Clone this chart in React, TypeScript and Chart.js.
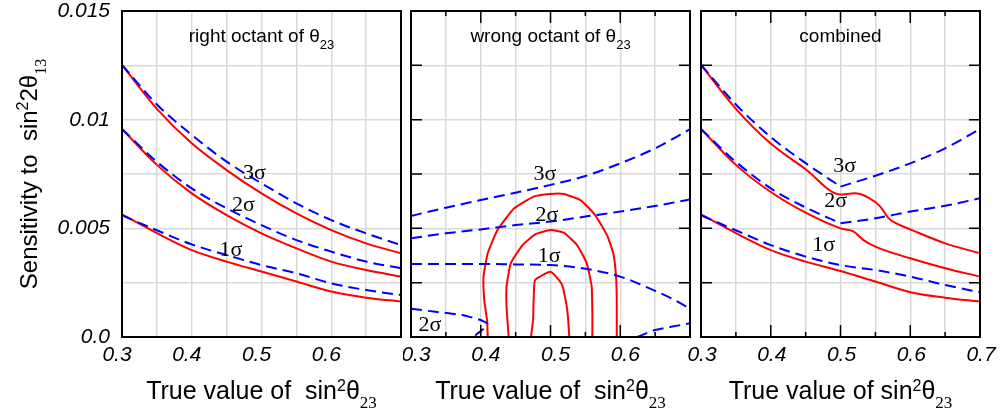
import React, { useEffect, useRef } from "react";
import { Chart, registerables } from "chart.js";

Chart.register(...registerables);

// ---------- shared axis values ----------
const X_GRID = [0.3, 0.35, 0.4, 0.45, 0.5, 0.55, 0.6, 0.65, 0.7];
const X_LABEL_VALUES = [0.3, 0.4, 0.5, 0.6, 0.7];
const X_LABELS = ["0.3", "0.4", "0.5", "0.6", "0.7"];
const Y_LABEL_VALUES = [0, 0.005, 0.01, 0.015];
const Y_LABELS = ["0.0", "0.005", "0.01", "0.015"];

// ---------- panel 1: right octant ----------
const RIGHT_RED_3 = [0.01252, 0.0105, 0.00891, 0.00768, 0.00661, 0.00569, 0.00492, 0.00431, 0.00385];
const RIGHT_BLUE_3 = [0.01252, 0.0107, 0.0093, 0.00807, 0.00707, 0.00615, 0.00538, 0.00477, 0.00423];
const RIGHT_RED_2 = [0.00957, 0.00792, 0.00661, 0.00561, 0.00477, 0.00408, 0.00347, 0.00308, 0.00278];
const RIGHT_BLUE_2 = [0.00957, 0.00806, 0.00684, 0.00592, 0.00515, 0.00446, 0.00393, 0.00347, 0.00316];
const RIGHT_RED_1 = [0.00564, 0.00478, 0.004, 0.00347, 0.00301, 0.00255, 0.00209, 0.00181, 0.00163];
const RIGHT_BLUE_1 = [0.0056, 0.00491, 0.00426, 0.00377, 0.00331, 0.00293, 0.00247, 0.00216, 0.00193];
const RIGHT_SIGMA_TEXT = ["3σ", "2σ", "1σ"];
const RIGHT_SIGMA_X = [0.49, 0.474, 0.456];
const RIGHT_SIGMA_Y = [0.00755, 0.00605, 0.004];

// ---------- panel 2: wrong octant ----------
const WRONG_BLUE_3 = [0.00557, 0.00595, 0.0063, 0.00664, 0.007, 0.00741, 0.00799, 0.00868, 0.00956];
const WRONG_BLUE_2 = [0.00454, 0.00477, 0.00495, 0.00515, 0.00531, 0.00554, 0.00577, 0.00603, 0.00633];
const WRONG_BLUE_1_X = [0.3, 0.35, 0.4, 0.45, 0.5, 0.55, 0.6, 0.65, 0.675, 0.7];
const WRONG_BLUE_1_Y = [0.00336, 0.00336, 0.00336, 0.00334, 0.00331, 0.00314, 0.00278, 0.00212, 0.00175, 0.0013];
const WRONG_BLUE_2L_X = [0.3, 0.335, 0.373, 0.4, 0.41, 0.403, 0.395, 0.39];
const WRONG_BLUE_2L_Y = [0.0013, 0.00116, 0.00101, 0.00078, 0.0006, 0.00035, 0.00015, 0];
const WRONG_BLUE_2R_X = [0.624, 0.65, 0.675, 0.7];
const WRONG_BLUE_2R_Y = [0, 0.00032, 0.00048, 0.00063];
const WRONG_RED_3_X = [0.41, 0.409, 0.405, 0.404, 0.41, 0.424, 0.448, 0.476, 0.5, 0.519, 0.543, 0.564, 0.581, 0.59, 0.594, 0.595, 0.595];
const WRONG_RED_3_Y = [0, 0.00078, 0.0017, 0.00278, 0.00385, 0.00492, 0.00592, 0.00646, 0.00658, 0.00658, 0.0063, 0.00561, 0.00469, 0.00385, 0.00278, 0.0017, 0];
const WRONG_RED_2_X = [0.44, 0.437, 0.437, 0.443, 0.46, 0.479, 0.5, 0.519, 0.538, 0.552, 0.559, 0.56, 0.56];
const WRONG_RED_2_Y = [0, 0.0014, 0.00232, 0.00339, 0.00423, 0.00474, 0.00492, 0.0048, 0.00423, 0.00339, 0.00232, 0.00109, 0];
const WRONG_RED_1_X = [0.472, 0.475, 0.476, 0.478, 0.5, 0.516, 0.522, 0.525, 0.527];
const WRONG_RED_1_Y = [0, 0.00078, 0.00186, 0.00262, 0.003, 0.00245, 0.00165, 0.00094, 0];
const WRONG_SIGMA_TEXT = ["3σ", "2σ", "1σ", "2σ"];
const WRONG_SIGMA_X = [0.492, 0.495, 0.498, 0.327];
const WRONG_SIGMA_Y = [0.0075, 0.00559, 0.0037, 0.00055];

// ---------- panel 3: combined ----------
const COMB_RED_3_X = [0.3, 0.35, 0.4, 0.45, 0.5, 0.52, 0.54, 0.557, 0.569, 0.583, 0.6, 0.65, 0.7];
const COMB_RED_3_Y = [0.01252, 0.0105, 0.0089, 0.00772, 0.00656, 0.00661, 0.00641, 0.006, 0.00546, 0.00518, 0.00495, 0.00431, 0.00385];
const COMB_BLUE_3 = [0.01252, 0.0107, 0.0092, 0.008, 0.00692, 0.00742, 0.00799, 0.00868, 0.00957];
const COMB_RED_2_X = [0.3, 0.35, 0.4, 0.45, 0.5, 0.519, 0.533, 0.55, 0.6, 0.65, 0.7];
const COMB_RED_2_Y = [0.00957, 0.00792, 0.00667, 0.00572, 0.005, 0.00485, 0.00446, 0.00416, 0.00362, 0.00316, 0.00278];
const COMB_BLUE_2 = [0.00957, 0.00806, 0.00684, 0.00596, 0.00523, 0.00546, 0.00577, 0.00604, 0.00638];
const COMB_RED_1 = [0.00564, 0.00478, 0.004, 0.00347, 0.00304, 0.00255, 0.00206, 0.00181, 0.00163];
const COMB_BLUE_1 = [0.0056, 0.00491, 0.00423, 0.0037, 0.00331, 0.00308, 0.00278, 0.00239, 0.00206];
const COMB_SIGMA_TEXT = ["3σ", "2σ", "1σ"];
const COMB_SIGMA_X = [0.506, 0.493, 0.476];
const COMB_SIGMA_Y = [0.00787, 0.00623, 0.00421];

// ---------- styling ----------
const RED = "#ff0000";
const BLUE = "#0000ff";
const GRID = "#d9d9d9";
const SANS = '"Liberation Sans", Arial, sans-serif';
const SERIF = '"Liberation Serif", "Times New Roman", serif';

type Seg = { text: string; size: number; dy: number; family: string };

function drawRich(ctx: CanvasRenderingContext2D, segs: Seg[], x: number, y: number) {
  let total = 0;
  const ws = segs.map((s) => {
    ctx.font = `${s.size}px ${s.family}`;
    const w = ctx.measureText(s.text).width;
    total += w;
    return w;
  });
  let cx = x - total / 2;
  ctx.textAlign = "left";
  ctx.textBaseline = "alphabetic";
  segs.forEach((s, i) => {
    ctx.font = `${s.size}px ${s.family}`;
    ctx.fillText(s.text, cx, y + s.dy);
    cx += ws[i];
  });
}

function line(xs: number[], ys: number[], color: string, dashed: boolean, mode: "monotone" | "straight" = "monotone") {
  return {
    data: xs.map((x, i) => ({ x, y: ys[i] })),
    showLine: true,
    borderColor: color,
    backgroundColor: color,
    borderWidth: 2,
    borderDash: dashed ? [11, 6] : [],
    pointRadius: 0,
    fill: false,
    tension: mode === "monotone" ? 0.4 : 0.15,
    cubicInterpolationMode: mode === "monotone" ? "monotone" : "default",
  };
}

const xTitle = (space: string): Seg[] => [
  { text: `True value of${space}sin`, size: 25, dy: 0, family: SANS },
  { text: "2", size: 16, dy: -8, family: SANS },
  { text: "θ", size: 25, dy: 0, family: SANS },
  { text: "23", size: 17, dy: 9, family: SERIF },
];

const panelTitle = (t: string, sub: string): Seg[] => {
  const segs: Seg[] = [{ text: t, size: 19, dy: 0, family: SANS }];
  if (sub) segs.push({ text: sub, size: 13, dy: 7, family: SANS });
  return segs;
};

const Y_TITLE: Seg[] = [
  { text: "Sensitivity to  sin", size: 24, dy: 0, family: SANS },
  { text: "2", size: 16, dy: -9, family: SANS },
  { text: "2θ", size: 24, dy: 0, family: SANS },
  { text: "13", size: 16, dy: 9, family: SERIF },
];

interface PanelSpec {
  left: number;
  width: number;
  plotLeft: number;
  plotRight: number;
  datasets: any[];
  sigmaText: string[];
  sigmaX: number[];
  sigmaY: number[];
  title: Seg[];
  xTitle: Seg[];
  showY: boolean;
  hideLast: boolean;
  labelOffset: number;
  innerTicks: boolean;
}

const PLOT_TOP = 11;
const PLOT_BOTTOM = 337;
const HEIGHT = 416;

const PANELS: PanelSpec[] = [
  {
    left: 0,
    width: 403,
    plotLeft: 122,
    plotRight: 401,
    datasets: [
      line(X_GRID, RIGHT_BLUE_3, BLUE, true),
      line(X_GRID, RIGHT_BLUE_2, BLUE, true),
      line(X_GRID, RIGHT_BLUE_1, BLUE, true),
      line(X_GRID, RIGHT_RED_3, RED, false),
      line(X_GRID, RIGHT_RED_2, RED, false),
      line(X_GRID, RIGHT_RED_1, RED, false),
    ],
    sigmaText: RIGHT_SIGMA_TEXT,
    sigmaX: RIGHT_SIGMA_X,
    sigmaY: RIGHT_SIGMA_Y,
    title: panelTitle("right octant of θ", "23"),
    xTitle: xTitle("  "),
    showY: true,
    hideLast: true,
    labelOffset: -5,
    innerTicks: false,
  },
  {
    left: 403,
    width: 290,
    plotLeft: 411,
    plotRight: 690,
    datasets: [
      line(X_GRID, WRONG_BLUE_3, BLUE, true),
      line(X_GRID, WRONG_BLUE_2, BLUE, true),
      line(WRONG_BLUE_1_X, WRONG_BLUE_1_Y, BLUE, true),
      line(WRONG_BLUE_2L_X, WRONG_BLUE_2L_Y, BLUE, true, "straight"),
      line(WRONG_BLUE_2R_X, WRONG_BLUE_2R_Y, BLUE, true),
      line(WRONG_RED_3_X, WRONG_RED_3_Y, RED, false, "straight"),
      line(WRONG_RED_2_X, WRONG_RED_2_Y, RED, false, "straight"),
      line(WRONG_RED_1_X, WRONG_RED_1_Y, RED, false, "straight"),
    ],
    sigmaText: WRONG_SIGMA_TEXT,
    sigmaX: WRONG_SIGMA_X,
    sigmaY: WRONG_SIGMA_Y,
    title: panelTitle("wrong octant of θ", "23"),
    xTitle: xTitle("  "),
    showY: false,
    hideLast: true,
    labelOffset: 5,
    innerTicks: true,
  },
  {
    left: 684,
    width: 320,
    plotLeft: 701,
    plotRight: 980,
    datasets: [
      line(X_GRID.slice(0, 5), COMB_BLUE_3.slice(0, 5), BLUE, true),
      line(X_GRID.slice(4), COMB_BLUE_3.slice(4), BLUE, true),
      line(X_GRID.slice(0, 5), COMB_BLUE_2.slice(0, 5), BLUE, true),
      line(X_GRID.slice(4), COMB_BLUE_2.slice(4), BLUE, true),
      line(X_GRID, COMB_BLUE_1, BLUE, true),
      line(COMB_RED_3_X, COMB_RED_3_Y, RED, false),
      line(COMB_RED_2_X, COMB_RED_2_Y, RED, false),
      line(X_GRID, COMB_RED_1, RED, false),
    ],
    sigmaText: COMB_SIGMA_TEXT,
    sigmaX: COMB_SIGMA_X,
    sigmaY: COMB_SIGMA_Y,
    title: panelTitle("combined", ""),
    xTitle: xTitle(" "),
    showY: false,
    hideLast: false,
    labelOffset: 1,
    innerTicks: true,
  },
];

function findLabel(values: number[], labels: string[], v: number): string {
  const i = values.findIndex((a) => Math.abs(a - v) < 1e-7);
  return i >= 0 ? labels[i] : "";
}

function makeConfig(p: PanelSpec): any {
  const decor = {
    id: "decor",
    afterDatasetsDraw(chart: any) {
      const ctx: CanvasRenderingContext2D = chart.ctx;
      const a = chart.chartArea;
      const xs = chart.scales.x;
      const ys = chart.scales.y;
      ctx.save();
      // inner ticks
      if (p.innerTicks) {
        ctx.strokeStyle = "#000";
        ctx.lineWidth = 1.5;
        ctx.beginPath();
        X_GRID.slice(1, -1).forEach((v) => {
          const px = xs.getPixelForValue(v);
          const major = X_LABEL_VALUES.some((m) => Math.abs(m - v) < 1e-7);
          const len = major ? 12 : 5;
          ctx.moveTo(px, a.top);
          ctx.lineTo(px, a.top + len);
          ctx.moveTo(px, a.bottom);
          ctx.lineTo(px, a.bottom - len);
        });
        ys.ticks.forEach((t: any) => {
          if (t.value <= 1e-9 || t.value >= 0.015 - 1e-9) return;
          const py = ys.getPixelForValue(t.value);
          ctx.moveTo(a.left, py);
          ctx.lineTo(a.left + 11, py);
          ctx.moveTo(a.right, py);
          ctx.lineTo(a.right - 11, py);
        });
        ctx.stroke();
      }
      // frame
      ctx.strokeStyle = "#000";
      ctx.lineWidth = 2;
      ctx.strokeRect(a.left, a.top, a.right - a.left, a.bottom - a.top);
      // sigma labels
      ctx.fillStyle = "#000";
      ctx.font = `22px ${SERIF}`;
      ctx.textAlign = "center";
      ctx.textBaseline = "middle";
      p.sigmaText.forEach((t, i) => {
        ctx.fillText(t, xs.getPixelForValue(p.sigmaX[i]), ys.getPixelForValue(p.sigmaY[i]));
      });
      // titles
      const cx = (a.left + a.right) / 2;
      ctx.fillStyle = "#000";
      drawRich(ctx, p.title, cx, a.top + 31);
      drawRich(ctx, p.xTitle, cx, a.bottom + 62);
      if (p.showY) {
        ctx.translate(37, (a.top + a.bottom) / 2);
        ctx.rotate(-Math.PI / 2);
        drawRich(ctx, Y_TITLE, 0, 0);
      }
      ctx.restore();
    },
  };

  const tickFont = { family: SANS, size: 21, style: "italic" as const };

  return {
    type: "scatter",
    data: { datasets: p.datasets },
    options: {
      animation: false,
      responsive: false,
      devicePixelRatio: 1,
      events: [],
      layout: {
        padding: { left: 0, top: PLOT_TOP, right: p.left + p.width - p.plotRight, bottom: 0 },
      },
      plugins: {
        legend: { display: false },
        tooltip: { enabled: false },
        title: { display: false },
      },
      scales: {
        x: {
          type: "linear",
          min: 0.3,
          max: 0.7,
          border: { display: false },
          grid: { color: GRID, lineWidth: 1.5, drawTicks: false },
          ticks: {
            stepSize: 0.05,
            autoSkip: false,
            maxRotation: 0,
            minRotation: 0,
            padding: 6,
            labelOffset: p.labelOffset,
            color: "#000",
            font: tickFont,
            callback: (v: number) => {
              if (p.hideLast && Math.abs(v - 0.7) < 1e-7) return "";
              return findLabel(X_LABEL_VALUES, X_LABELS, v);
            },
          },
          afterFit: (s: any) => {
            s.height = HEIGHT - PLOT_BOTTOM;
            s.paddingLeft = 0;
            s.paddingRight = 0;
          },
        },
        y: {
          type: "linear",
          min: 0,
          max: 0.015,
          border: { display: false },
          grid: { color: GRID, lineWidth: 1.5, drawTicks: false },
          ticks: {
            display: p.showY,
            stepSize: 0.0025,
            autoSkip: false,
            padding: 12,
            color: "#000",
            font: tickFont,
            callback: (v: number) => findLabel(Y_LABEL_VALUES, Y_LABELS, v),
          },
          afterFit: (s: any) => {
            s.width = p.plotLeft - p.left;
            s.paddingTop = 0;
            s.paddingBottom = 0;
          },
        },
      },
    },
    plugins: [decor],
  };
}

function Panel({ spec }: { spec: PanelSpec }) {
  const ref = useRef<HTMLCanvasElement | null>(null);
  useEffect(() => {
    if (!ref.current) return;
    const chart = new Chart(ref.current, makeConfig(spec));
    return () => chart.destroy();
  }, [spec]);
  return (
    <canvas
      ref={ref}
      width={spec.width}
      height={HEIGHT}
      style={{ position: "absolute", left: spec.left, top: 0, width: spec.width, height: HEIGHT, display: "block" }}
    />
  );
}

export default function App() {
  return (
    <div style={{ position: "fixed", left: 0, top: 0, width: 1004, height: HEIGHT, background: "#fff", overflow: "hidden" }}>
      {PANELS.map((p, i) => (
        <Panel key={i} spec={p} />
      ))}
    </div>
  );
}
